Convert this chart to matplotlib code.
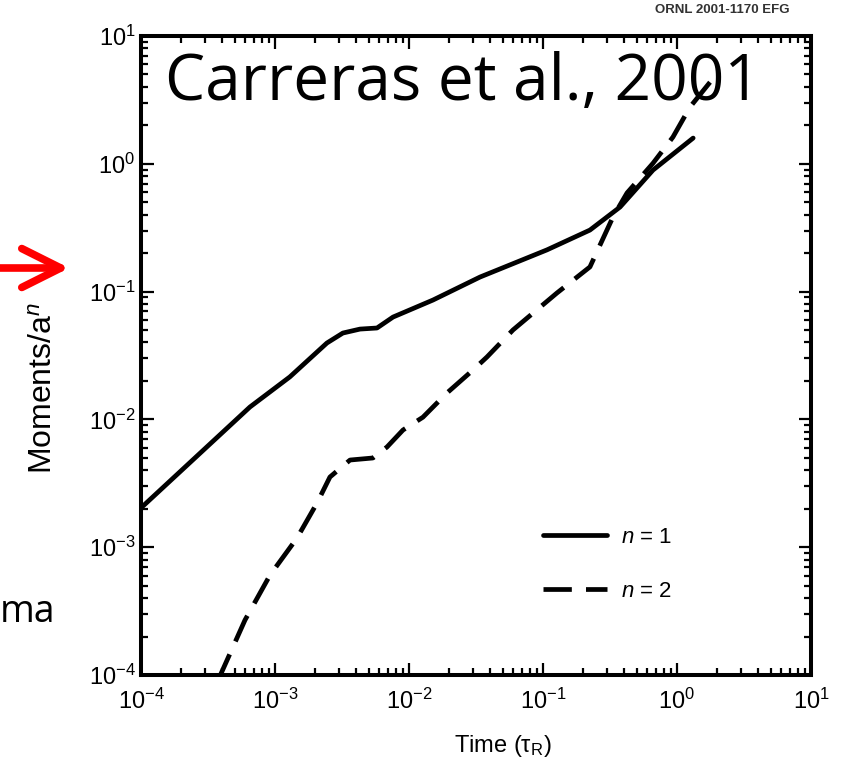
import matplotlib
matplotlib.use('Agg')
import matplotlib.pyplot as plt

plt.rcParams['font.family'] = ['Liberation Sans', 'DejaVu Sans']
plt.rcParams['mathtext.fontset'] = 'custom'
plt.rcParams['mathtext.rm'] = 'Liberation Sans'
plt.rcParams['mathtext.it'] = 'Liberation Sans:italic'
plt.rcParams['mathtext.bf'] = 'Liberation Sans:bold'

# moment n = 1 (solid)
t_n1 = [1.0e-4, 6.5e-4, 1.29e-3, 2.44e-3, 3.21e-3, 4.31e-3, 5.77e-3, 7.6e-3,
        1.51e-2, 3.39e-2, 0.107, 0.224, 0.376, 0.662, 1.32]
m_n1 = [2.03e-3, 1.25e-2, 2.15e-2, 3.96e-2, 4.74e-2, 5.09e-2, 5.19e-2, 6.32e-2,
        8.59e-2, 0.130, 0.212, 0.303, 0.459, 0.893, 1.59]

# moment n = 2 (dashed)
t_n2 = [3.76e-4, 5.97e-4, 9.18e-4, 1.46e-3, 2.06e-3, 2.57e-3, 3.63e-3, 5.38e-3,
        6.85e-3, 9.02e-3, 1.27e-2, 1.92e-2, 3.01e-2, 3.82e-2, 5.97e-2, 0.127,
        0.224, 0.333, 0.424, 0.662, 0.933, 1.25, 1.82]
m_n2 = [9.1e-5, 2.69e-4, 6.05e-4, 1.18e-3, 2.22e-3, 3.54e-3, 4.81e-3, 4.99e-3,
        6.08e-3, 8.26e-3, 1.04e-2, 1.61e-2, 2.44e-2, 3.08e-2, 5.01e-2, 9.75e-2,
        0.156, 0.384, 0.592, 1.01, 1.62, 2.78, 4.53]

labels = ['$n$ = 1', '$n$ = 2']

fig = plt.figure(figsize=(8.46, 7.68), dpi=100)
ax = fig.add_axes([141 / 846, 1 - 675 / 768, 670 / 846, 639 / 768])

l1, = ax.plot(t_n1, m_n1, color='black', lw=3.4, solid_capstyle='round')
l2, = ax.plot(t_n2, m_n2, color='black', lw=3.4, linestyle=(0, (6, 3)))

ax.set_xscale('log')
ax.set_yscale('log')
ax.set_xlim(1e-4, 1e1)
ax.set_ylim(1e-4, 1e1)

for sp in ax.spines.values():
    sp.set_linewidth(2.9)
ax.tick_params(which='both', direction='in', top=True, right=True,
               labelsize=17, width=1.6)
ax.tick_params(which='major', length=9)
ax.tick_params(which='minor', length=5)
ax.tick_params(axis='x', pad=10)
ax.tick_params(axis='y', pad=4)

ax.set_xlabel('Time (\u03c4$_{\\rm R}$)', fontsize=17)
ax.xaxis.set_label_coords(0.54, -0.091)
ax.set_ylabel('Moments/a$^n$', fontsize=23)
ax.yaxis.set_label_coords(-0.122, 0.449)

leg = ax.legend([l1, l2], labels, loc='center left', bbox_to_anchor=(0.6, 0.173),
                frameon=False, fontsize=16, handlelength=2.9, labelspacing=1.5,
                handletextpad=0.6, borderpad=0, borderaxespad=0)

fig.text(165 / 846, 1 - 100 / 768, 'Carreras et al., 2001', fontsize=46,
         family='Open Sans', va='baseline', ha='left', zorder=10)
fig.text(722 / 846, 1 - 10 / 768, 'ORNL 2001-1170 EFG', fontsize=9.5,
         weight='bold', color='#333333', ha='center', va='center')
fig.text(0, 1 - 622 / 768, 'ma', fontsize=27, family='Open Sans',
         va='baseline', ha='left')

# red pointer on the left
ax.annotate('', xy=(72, 768 - 268), xytext=(-10, 768 - 268),
            xycoords='figure pixels', textcoords='figure pixels',
            arrowprops=dict(arrowstyle='->,head_length=1.4,head_width=0.7',
                            color='red', lw=5.5, mutation_scale=20),
            annotation_clip=False)

fig.savefig('out.png', dpi=100)
